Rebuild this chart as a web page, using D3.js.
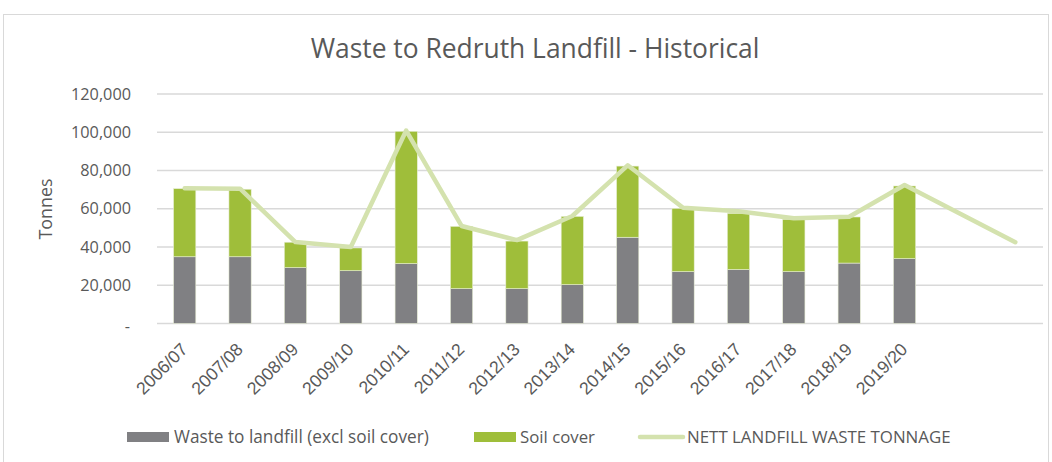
<!DOCTYPE html>
<html><head><meta charset="utf-8">
<script src="https://cdn.jsdelivr.net/npm/d3@7"></script>
<style>body{margin:0;background:#fff;}svg{display:block;font-family:"Open Sans",sans-serif;}</style>
</head><body>
<svg id="chart" width="1052" height="462"></svg>
<script>
const categories = ["2006/07","2007/08","2008/09","2009/10","2010/11","2011/12","2012/13","2013/14","2014/15","2015/16","2016/17","2017/18","2018/19","2019/20","",""];
const wasteToLandfill = [34900,34900,29200,27600,31300,18200,18200,20300,45100,27100,28200,27100,31600,33900,null,null];
const soilCover = [35600,35300,13300,11900,69200,32600,24900,35700,37200,33100,29400,27400,24100,38000,null,null];
const nettTonnage = [70700,70500,42600,40000,100900,51000,43600,56200,82700,60500,58700,55000,55800,72400,null,42500];
const yTicks = [0,20000,40000,60000,80000,100000,120000];
const seriesNames = ["Waste to landfill (excl soil cover)","Soil cover","NETT LANDFILL WASTE TONNAGE"];

const svg = d3.select("#chart");
const grey = "#808083", green = "#9fbe3a", lineCol = "#d4e2ae", txt = "#595959", grid = "#d9d9d9";

function fit(sel, target, base) {
  sel.style("font-size", base + "px");
  const w = sel.node().getComputedTextLength();
  const fs = base * target / w;
  sel.style("font-size", fs + "px");
  return fs;
}

svg.append("rect").attr("x",3.5).attr("y",14.5).attr("width",1045).attr("height",470)
  .attr("fill","none").attr("stroke","#d9d9d9").attr("stroke-width",1);

const L = 157, R = 1043, T = 94, B = 323.5;
const idx = d3.range(categories.length);
const x = d3.scaleBand().domain(idx).range([L,R]).paddingInner(0.598).paddingOuter(0.299);
const y = d3.scaleLinear().domain([0,120000]).range([B,T]);

// gridlines
svg.append("g").selectAll("line").data(yTicks).join("line")
  .attr("x1",L).attr("x2",R).attr("y1",d=>y(d)).attr("y2",d=>y(d))
  .attr("stroke",grid).attr("stroke-width",1.3);

// y axis labels
const yAxis = d3.axisLeft(y).tickValues(yTicks).tickSize(0).tickPadding(0)
  .tickFormat(d => d===0 ? "-" : d3.format(",")(d));
const gy = svg.append("g").attr("transform",`translate(131,0)`).call(yAxis);
gy.select(".domain").remove();
const yt = gy.selectAll("text").attr("fill",txt).style("font-family","'Open Sans',sans-serif");
const yfs = fit(yt.filter(d=>d===120000), 60, 15);
yt.style("font-size", yfs+"px");
yt.filter(d=>d===0).attr("x",-1).attr("dy","0.5em");

// axis title
const tt = svg.append("text").attr("transform","translate(52,209) rotate(-90)").attr("text-anchor","middle")
  .attr("fill",txt).text("Tonnes");
fit(tt, 61, 17);

// bars
const stackData = idx.map(i => ({i, waste: wasteToLandfill[i], soil: soilCover[i]}));
const stack = d3.stack().keys(["waste","soil"]).value((d,k)=> d[k]==null?0:d[k]);
const layers = stack(stackData);
const colors = {waste:grey, soil:green};
svg.append("g").selectAll("g").data(layers).join("g").attr("fill",d=>colors[d.key])
  .selectAll("rect").data(d=>d.filter(p=>p.data[d.key]!=null)).join("rect")
  .attr("x",d=>x(d.data.i)).attr("width",x.bandwidth())
  .attr("y",d=>y(d[1])).attr("height",d=>y(d[0])-y(d[1]))
  .attr("stroke","#e8eed6").attr("stroke-width",0.6);

// line
const pts = idx.filter(i=>nettTonnage[i]!=null).map(i=>({i,v:nettTonnage[i]}));
const line = d3.line().x(d=>x(d.i)+x.bandwidth()/2).y(d=>y(d.v));
svg.append("path").datum(pts).attr("d",line).attr("fill","none")
  .attr("stroke",lineCol).attr("stroke-width",4.5).attr("stroke-linejoin","round").attr("stroke-linecap","round");

// x axis labels
const xAxis = d3.axisBottom(x).tickSize(0).tickFormat(i=>categories[i]);
const gx = svg.append("g").attr("transform",`translate(0,${B})`).call(xAxis);
gx.select(".domain").remove();
const xt = gx.selectAll("text").attr("fill",txt)
  .attr("text-anchor","end").attr("dy",0).attr("y",0)
  .attr("transform","translate(4,27) rotate(-45)");
const xfs = fit(xt.filter(d=>d===0), 64, 15);
xt.style("font-size", xfs+"px");

// title
const title = svg.append("text").attr("x",535).attr("y",58).attr("text-anchor","middle")
  .attr("fill",txt).text("Waste to Redruth Landfill - Historical");
fit(title, 449, 24);

// legend
const lg = svg.append("g").attr("transform","translate(0,437)");
lg.append("rect").attr("x",127).attr("y",-5).attr("width",42).attr("height",10).attr("fill",grey);
fit(lg.append("text").attr("x",174).attr("y",0).attr("dy","0.35em").attr("fill",txt).text(seriesNames[0]), 255, 16);
lg.append("rect").attr("x",474).attr("y",-5).attr("width",42).attr("height",10).attr("fill",green);
fit(lg.append("text").attr("x",520).attr("y",0).attr("dy","0.35em").attr("fill",txt).text(seriesNames[1]), 75, 16);
lg.append("line").attr("x1",640).attr("x2",683).attr("y1",0).attr("y2",0).attr("stroke",lineCol).attr("stroke-width",4.5).attr("stroke-linecap","round");
fit(lg.append("text").attr("x",687).attr("y",0).attr("dy","0.35em").attr("fill",txt).text(seriesNames[2]), 264, 16);
</script>
</body></html>
